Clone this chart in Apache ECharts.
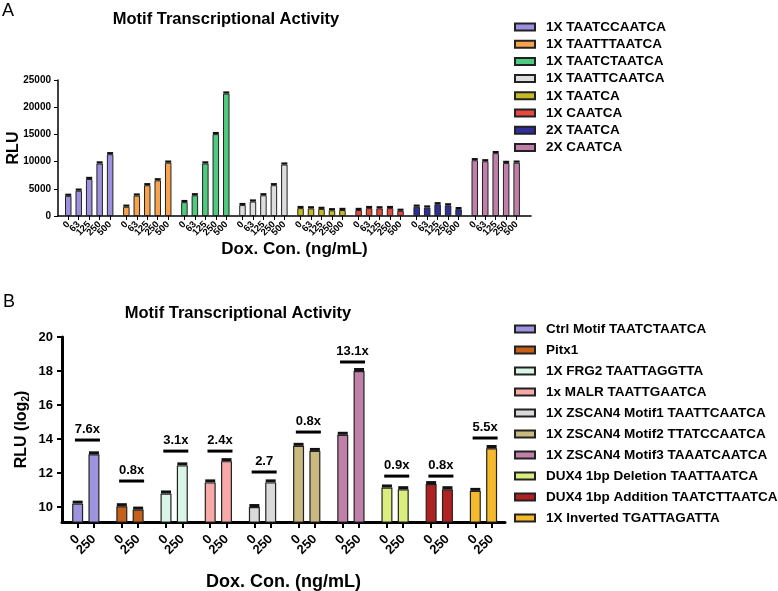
<!DOCTYPE html>
<html><head><meta charset="utf-8">
<script src="https://cdn.jsdelivr.net/npm/echarts@6/dist/echarts.min.js"></script>
<style>html,body{margin:0;padding:0;background:#fff}#c{width:778px;height:591px}</style>
</head><body><div id="c"></div>
<script>
// ---------- Panel A data ----------
const dosesA = ['0', '63', '125', '250', '500'];
const namesA = ['1X TAATCCAATCA', '1X TAATTTAATCA', '1X TAATCTAATCA', '1X TAATTCAATCA',
                '1X TAATCA', '1X CAATCA', '2X TAATCA', '2X CAATCA'];
const rlu1xTAATCCAATCA = [3700, 4650, 6800, 9650, 11350];
const rlu1xTAATTTAATCA = [1700, 3750, 5650, 6550, 9800];
const rlu1xTAATCTAATCA = [2550, 3800, 9650, 15050, 22500];
const rlu1xTAATTCAATCA = [2000, 2650, 3800, 5650, 9450];
const rlu1xTAATCA = [1450, 1400, 1300, 1050, 1100];
const rlu1xCAATCA = [1100, 1450, 1400, 1450, 950];
const rlu2xTAATCA = [1700, 1550, 2150, 1950, 1250];
const rlu2xCAATCA = [10250, 10050, 11550, 9750, 9800];
const err1xTAATCCAATCA = [200, 220, 200, 250, 250];
const err1xTAATTTAATCA = [150, 200, 150, 200, 250];
const err1xTAATCTAATCA = [200, 200, 250, 350, 250];
const err1xTAATTCAATCA = [150, 150, 200, 250, 200];
const err1xTAATCA = [150, 150, 150, 150, 150];
const err1xCAATCA = [150, 150, 150, 150, 150];
const err2xTAATCA = [150, 150, 200, 150, 150];
const err2xCAATCA = [200, 200, 250, 200, 200];

// ---------- Panel B data ----------
const dosesB = ['0', '250'];
const namesB = ['Ctrl Motif TAATCTAATCA', 'Pitx1', '1X FRG2 TAATTAGGTTA', '1x MALR TAATTGAATCA',
                '1X ZSCAN4 Motif1 TAATTCAATCA', '1X ZSCAN4 Motif2 TTATCCAATCA', '1X ZSCAN4 Motif3 TAAATCAATCA',
                'DUX4 1bp Deletion TAATTAATCA', 'DUX4 1bp Addition TAATCTTAATCA', '1X Inverted TGATTAGATTA'];
const log2Dox0   = [10.2, 10.05, 10.8, 11.45, 10.0, 13.6, 14.25, 11.15, 11.35, 10.95];
const log2Dox250 = [13.1, 9.85, 12.45, 12.7, 11.45, 13.3, 18.0, 11.05, 11.05, 13.45];
const errDox0    = [0.15, 0.15, 0.12, 0.12, 0.12, 0.15, 0.12, 0.15, 0.15, 0.12];
const errDox250  = [0.12, 0.15, 0.12, 0.15, 0.15, 0.15, 0.15, 0.15, 0.15, 0.2];
const foldLabels = ['7.6x', '0.8x', '3.1x', '2.4x', '2.7', '0.8x', '13.1x', '0.9x', '0.8x', '5.5x'];
const foldBarLevel = [13.94, 11.53, 13.29, 13.29, 12.06, 14.41, 18.53, 11.82, 11.82, 14.06];

// ---------- styles ----------
const colorsA = ['#9c90de', '#f8a34c', '#4fcb80', '#dedede', '#c4b927', '#e9483d', '#2e2f98', '#c07fa9'];
const colorsB = ['#9d94e0', '#c65f17', '#d9f5e8', '#f7a9a7', '#dadada', '#c9b97f', '#c080a9', '#d9ee7d', '#b02222', '#f5b92c'];
const FONT = '"Liberation Sans", Arial, Helvetica, sans-serif';

const valuesA = [rlu1xTAATCCAATCA, rlu1xTAATTTAATCA, rlu1xTAATCTAATCA, rlu1xTAATTCAATCA, rlu1xTAATCA, rlu1xCAATCA, rlu2xTAATCA, rlu2xCAATCA];
const errorsA = [err1xTAATCCAATCA, err1xTAATTTAATCA, err1xTAATCTAATCA, err1xTAATTCAATCA, err1xTAATCA, err1xCAATCA, err2xTAATCA, err2xCAATCA];

// layout (axis units)
const GAP_A = 5.547, GAP_B = 2.711;
const XA_MIN = -0.98, XA_MAX = 44.2, XB_MIN = -0.96, XB_MAX = 26.22;
const xA = (g, i) => g * GAP_A + i;
const xB = (g, i) => g * GAP_B + i;

const xPosA = [], labA = [];
namesA.forEach((n, g) => dosesA.forEach((d, i) => { xPosA.push(xA(g, i)); labA.push(d); }));
const xPosB = [], labB = [];
namesB.forEach((n, g) => dosesB.forEach((d, i) => { xPosB.push(xB(g, i)); labB.push(d); }));
function labelAt(v, pos, lab) {
  let best = -1, bd = 0.3;
  pos.forEach((p, k) => { const d = Math.abs(p - v); if (d < bd) { bd = d; best = k; } });
  return best < 0 ? '' : lab[best];
}

const series = [];
namesA.forEach((n, g) => {
  series.push({
    name: n, type: 'bar', xAxisIndex: 0, yAxisIndex: 0, barWidth: 6.5, barGap: '-100%',
    itemStyle: { color: colorsA[g], borderColor: '#222', borderWidth: 1 },
    data: valuesA[g].map((v, i) => [xA(g, i), v])
  });
});
const bValues = namesB.map((n, g) => [log2Dox0[g], log2Dox250[g]]);
const bErrors = namesB.map((n, g) => [errDox0[g], errDox250[g]]);
namesB.forEach((n, g) => {
  series.push({
    name: n, type: 'bar', xAxisIndex: 1, yAxisIndex: 1, barWidth: 11, barGap: '-100%',
    itemStyle: { color: colorsB[g], borderColor: '#222', borderWidth: 1.2 },
    data: bValues[g].map((v, i) => [xB(g, i), v])
  });
});

function errRender(wpx, hmin) {
  return function (params, api) {
    const x = api.value(0), v = api.value(1), e = api.value(2);
    const top = api.coord([x, v + e]);
    const bot = api.coord([x, v]);
    const h = Math.max(bot[1] - top[1], hmin);
    return { type: 'rect', shape: { x: top[0] - wpx / 2, y: bot[1] - h, width: wpx, height: h }, style: { fill: '#111' } };
  };
}
const errDataA = [];
namesA.forEach((n, g) => valuesA[g].forEach((v, i) => errDataA.push([xA(g, i), v, errorsA[g][i]])));
series.push({ name: 'errA', type: 'custom', xAxisIndex: 0, yAxisIndex: 0, renderItem: errRender(6, 2.2), encode: { x: 0, y: 1 }, data: errDataA, z: 5 });
const errDataB = [];
namesB.forEach((n, g) => bValues[g].forEach((v, i) => errDataB.push([xB(g, i), v, bErrors[g][i]])));
series.push({ name: 'errB', type: 'custom', xAxisIndex: 1, yAxisIndex: 1, renderItem: errRender(10, 3), encode: { x: 0, y: 1 }, data: errDataB, z: 5 });

series.push({
  name: 'fold', type: 'custom', xAxisIndex: 1, yAxisIndex: 1, z: 6,
  encode: { x: 0, y: 1 },
  data: namesB.map((n, g) => [xB(g, 0) + 0.6, foldBarLevel[g], g]),
  renderItem: function (params, api) {
    const p = api.coord([api.value(0), api.value(1)]);
    const half = 12.5;
    return {
      type: 'group', children: [
        { type: 'line', shape: { x1: p[0] - half, y1: p[1], x2: p[0] + half, y2: p[1] }, style: { stroke: '#000', lineWidth: 3 } },
        { type: 'text', style: { text: foldLabels[api.value(2)], x: p[0], y: p[1] - 4, align: 'center', verticalAlign: 'bottom', textAlign: 'center', textVerticalAlign: 'bottom', font: 'bold 13px ' + FONT, fill: '#000' } }
      ]
    };
  }
});

const legendText = { fontFamily: FONT, fontWeight: 'bold', fontSize: 13.5, color: '#000', lineHeight: 14, padding: [0, 0, 0, 6] };

const option = {
  animation: false,
  textStyle: { fontFamily: FONT },
  grid: [
    { left: 58, top: 80, width: 473, height: 136, containLabel: false, outerBoundsMode: 'none' },
    { left: 62, top: 337, width: 443, height: 185, containLabel: false, outerBoundsMode: 'none' }
  ],
  xAxis: [
    {
      gridIndex: 0, type: 'value', min: XA_MIN, max: XA_MAX, splitLine: { show: false },
      name: 'Dox. Con. (ng/mL)', nameLocation: 'middle', nameGap: 16,
      nameTextStyle: { fontSize: 17, fontWeight: 'bold', color: '#000', fontFamily: FONT },
      axisLine: { show: true, onZero: false, lineStyle: { color: '#000', width: 1.5 } },
      axisTick: { show: true, customValues: xPosA, length: 4, lineStyle: { color: '#000', width: 1 } },
      axisLabel: { customValues: [XA_MIN].concat(xPosA, [XA_MAX]), rotate: 45, margin: 7, fontSize: 9.5, fontWeight: 'bold', color: '#000',
        hideOverlap: false, formatter: v => labelAt(v, xPosA, labA) }
    },
    {
      gridIndex: 1, type: 'value', min: XB_MIN, max: XB_MAX, splitLine: { show: false },
      name: 'Dox. Con. (ng/mL)', nameLocation: 'middle', nameGap: 51,
      nameTextStyle: { fontSize: 18, fontWeight: 'bold', color: '#000', fontFamily: FONT },
      axisLine: { show: true, onZero: false, lineStyle: { color: '#000', width: 3 } },
      axisTick: { show: true, customValues: xPosB, length: 6, lineStyle: { color: '#000', width: 2 } },
      axisLabel: { customValues: [XB_MIN].concat(xPosB, [XB_MAX]), rotate: 45, margin: 15, fontSize: 13, fontWeight: 'bold', color: '#000',
        hideOverlap: false, formatter: v => labelAt(v, xPosB, labB) }
    }
  ],
  yAxis: [
    {
      gridIndex: 0, type: 'value', min: 0, max: 25000, interval: 5000, splitLine: { show: false },
      name: 'RLU', nameLocation: 'middle', nameGap: 36, nameMoveOverlap: false,
      nameTextStyle: { fontSize: 16, fontWeight: 'bold', color: '#000', fontFamily: FONT },
      axisLine: { show: true, onZero: false, lineStyle: { color: '#000', width: 1.5 } },
      axisTick: { show: true, length: 4, lineStyle: { color: '#000', width: 1 } },
      axisLabel: { margin: 7, fontSize: 10, fontWeight: 'bold', color: '#000', formatter: v => String(v) }
    },
    {
      gridIndex: 1, type: 'value', min: 9.12, max: 20, splitLine: { show: false },
      name: 'RLU (log{s|2})', nameLocation: 'middle', nameGap: 31, nameMoveOverlap: false,
      nameTextStyle: { fontSize: 16, fontWeight: 'bold', color: '#000', fontFamily: FONT,
        rich: { s: { fontSize: 10, fontWeight: 'bold', fontFamily: FONT, color: '#000', verticalAlign: 'bottom', padding: [8, 0, 0, 0] } } },
      axisLine: { show: true, onZero: false, lineStyle: { color: '#000', width: 3 } },
      axisTick: { show: true, customValues: [10, 12, 14, 16, 18, 20], length: 5, lineStyle: { color: '#000', width: 2 } },
      axisLabel: { customValues: [10, 12, 14, 16, 18, 20], margin: 9, fontSize: 13, fontWeight: 'bold', color: '#000', formatter: v => String(v) }
    }
  ],
  legend: [
    { data: namesA, orient: 'vertical', left: 514, top: 20, padding: 0, itemWidth: 20, itemHeight: 7, itemGap: 3.2, icon: 'rect', textStyle: legendText, selectedMode: false },
    { data: namesB, orient: 'vertical', left: 514, top: 322, padding: 0, itemWidth: 20, itemHeight: 7, itemGap: 7, icon: 'rect', textStyle: legendText, selectedMode: false }
  ],
  graphic: [
    { type: 'text', x: 2, y: 2, style: { text: 'A', font: '18px ' + FONT, fill: '#000' } },
    { type: 'text', x: 3, y: 293, style: { text: 'B', font: '18px ' + FONT, fill: '#000' } },
    { type: 'text', x: 226, y: 19, style: { text: 'Motif Transcriptional Activity', font: 'bold 16.5px ' + FONT, fill: '#000', align: 'center', verticalAlign: 'middle', textAlign: 'center', textVerticalAlign: 'middle' } },
    { type: 'text', x: 238, y: 313, style: { text: 'Motif Transcriptional Activity', font: 'bold 16.5px ' + FONT, fill: '#000', align: 'center', verticalAlign: 'middle', textAlign: 'center', textVerticalAlign: 'middle' } }
  ],
  series: series
};
const chart = echarts.init(document.getElementById('c'), null, { renderer: 'canvas' });
chart.setOption(option);
</script>
</body></html>
